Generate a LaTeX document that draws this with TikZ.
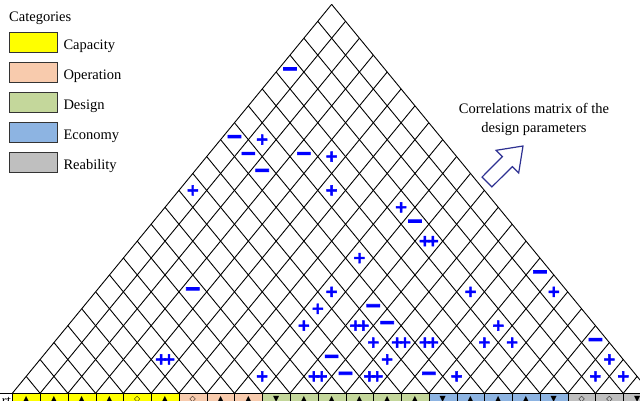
\documentclass[tikz,border=0pt]{standalone}
\usepackage{fontspec}
\usepackage{graphicx}
\setmainfont{Liberation Serif}
\newfontfamily\symfont{DejaVu Sans}
\newfontfamily\corrfont{DejaVu Sans}[BoldFeatures={FakeBold=3}]
\newcommand{\corrP}{+}
\newcommand{\corrM}{\scalebox{1.3}[1.5]{−}}
\newcommand{\corrPP}{+\kern-5.5pt+}
\newcommand{\bsymU}{▲}
\newcommand{\bsymV}{▼}
\newcommand{\bsymD}{◇}
\definecolor{capY}{HTML}{FFFF00}
\definecolor{opP}{HTML}{F8CBAD}
\definecolor{desG}{HTML}{C4D79B}
\definecolor{ecoB}{HTML}{8DB4E2}
\definecolor{relG}{HTML}{BFBFBF}
\definecolor{arrowblue}{HTML}{2E3192}
\tikzset{
  gridline/.style={draw=black, line width=0.9pt},
  corr/.style={text=blue, inner sep=0pt, font=\corrfont\bfseries\fontsize{16}{16}\selectfont},
  legbox/.style={draw=black!80, line width=1.1pt, minimum width=48pt, minimum height=20pt, inner sep=0pt},
  legtext/.style={anchor=base west, inner sep=0pt, font=\fontsize{14.5}{16}\selectfont},
  cellbox/.style={draw=black, line width=0.8pt, minimum width=27.77pt, minimum height=20pt, inner sep=0pt},
  cellsym/.style={anchor=north, inner sep=0pt, font=\symfont\fontsize{8}{8}\selectfont},
  titletext/.style={anchor=base, inner sep=0pt, font=\fontsize{14.5}{16}\selectfont},
  hollowarrow/.style={draw=arrowblue, line width=1.2pt, fill=white, line join=miter}
}
\begin{document}
\begin{tikzpicture}[x=1pt,y=-1pt]
\useasboundingbox (0,0) rectangle (640,400);
\clip (0,0) rectangle (640,400);
\fill[white] (0,0) rectangle (640,400);
% bottom row of category cells
\node[cellbox, fill=white, minimum width=20pt, anchor=north east] (c0x) at (12.3,393.3) {};
\node[anchor=base east, inner sep=0pt, font=\fontsize{14.5}{16}\selectfont] (rt) at (11,405) {rt};
\foreach \k/\c/\s in {0/capY/U,1/capY/U,2/capY/U,3/capY/U,4/capY/D,5/capY/U,
  6/opP/D,7/opP/U,8/opP/U,
  9/desG/V,10/desG/U,11/desG/U,12/desG/U,13/desG/U,14/desG/U,
  15/ecoB/V,16/ecoB/U,17/ecoB/U,18/ecoB/U,19/ecoB/V,
  20/relG/D,21/relG/D,22/relG/V} {
  \node[cellbox, fill=\c, anchor=north west] (cell\k) at ({12.3+27.77*\k},393.3) {};
  \node[cellsym] (cs\k) at ({12.3+27.77*(\k+0.5)},396.3) {\csname bsym\s\endcsname};
}
% triangular correlation grid
\foreach \k in {0,...,23} {
  \draw[gridline] ({12.3+27.77*\k},393.3) -- ({12.3+27.77*\k+(23-\k)*13.885},{393.3-(23-\k)*16.91});
  \draw[gridline] ({12.3+27.77*\k},393.3) -- ({12.3+27.77*\k-\k*13.885},{393.3-\k*16.91});
}
% correlation symbols
\foreach \i/\j/\t [count=\n] in {0/19/M,0/15/M,1/16/P,1/15/M,2/15/M,3/17/M,4/18/P,0/12/P,5/17/P,
  8/19/P,9/19/M,10/19/PP,8/16/P,15/22/M,16/22/P,13/19/P,3/9/M,8/14/P,8/13/P,10/15/M,
  8/12/P,10/14/PP,11/15/M,15/19/P,12/15/PP,13/16/PP,15/18/P,16/19/P,19/22/M,20/22/P,
  12/14/P,20/21/P,21/22/P,4/6/PP,10/12/M,8/9/P,10/11/PP,11/12/M,12/13/PP,14/15/M,
  15/16/P,11/14/P} {
  \node[corr] (s\n) at ({12.3+13.885*(\i+\j+1)},{393.3-16.91*(\j-\i)}) {\csname corr\t\endcsname};
}
% legend
\node[legtext] (cat) at (9,21) {Categories};
\foreach \c/\lab [count=\n] in {capY/Capacity,opP/Operation,desG/Design,ecoB/Economy,relG/Reability} {
  \node[legbox, fill=\c] (box\n) at (33.3,{42.7+30*(\n-1)}) {};
  \node[legtext] (lab\n) at (63.3,{49.5+30*(\n-1)}) {\lab};
}
% title
\node[titletext] (t1) at (534,113.3) {Correlations matrix of the};
\node[titletext] (t2) at (534,132.3) {design parameters};
% hollow arrow
\draw[hollowarrow] (482,177.1) -- (502.4,156.6) -- (496.1,150.3) -- (523,146) -- (518.7,172.9) -- (512.4,166.6) -- (491.9,186.9) -- cycle;
\end{tikzpicture}
\end{document}
